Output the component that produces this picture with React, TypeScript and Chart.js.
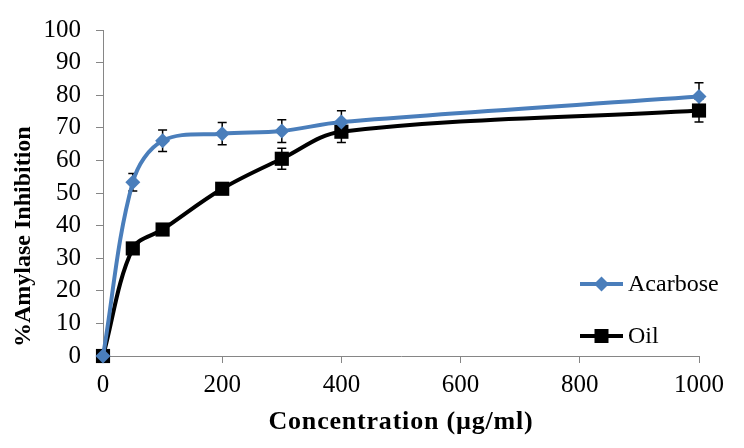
import { useEffect, useRef } from 'react';
import { Chart, registerables } from 'chart.js';

Chart.register(...registerables);

const concentrations = [0, 50, 100, 200, 300, 400, 1000];
const acarbose = [0, 53.3, 66.0, 68.2, 69.0, 71.8, 79.6];
const acarboseErr = [0, 2.7, 3.3, 3.4, 3.5, 3.4, 4.2];
const oil = [0, 33.0, 38.8, 51.3, 60.5, 68.8, 75.3];
const oilErr = [0, 1.5, 1.5, 1.5, 3.2, 3.3, 3.5];
const seriesNames = ['Acarbose', 'Oil'];
const xTitle = 'Concentration (µg/ml)';
const yTitle = '%Amylase Inhibition';

const BLUE = '#4A7EBB';
const BLACK = '#000000';
const AXIS = '#868686';
const FONT = "'Liberation Serif', 'Times New Roman', serif";

const errorBarPlugin = {
  id: 'errorBars',
  beforeDatasetsDraw(chart: any) {
    const { ctx } = chart;
    const xs = chart.scales.x;
    const ys = chart.scales.y;
    chart.data.datasets.forEach((ds: any) => {
      const errs: number[] = ds.errors || [];
      ctx.save();
      ctx.strokeStyle = '#000';
      ctx.lineWidth = 1.5;
      ds.data.forEach((p: any, i: number) => {
        const e = errs[i];
        if (!e) return;
        const x = xs.getPixelForValue(p.x);
        const yTop = ys.getPixelForValue(p.y + e);
        const yBot = ys.getPixelForValue(p.y - e);
        ctx.beginPath();
        ctx.moveTo(x, yTop);
        ctx.lineTo(x, yBot);
        ctx.moveTo(x - 4.5, yTop);
        ctx.lineTo(x + 4.5, yTop);
        ctx.moveTo(x - 4.5, yBot);
        ctx.lineTo(x + 4.5, yBot);
        ctx.stroke();
      });
      ctx.restore();
    });
  },
};

const titlesPlugin = {
  id: 'axisTitles',
  afterDraw(chart: any) {
    const { ctx, chartArea } = chart;
    // y title
    ctx.save();
    ctx.translate(24, chartArea.bottom - 9);
    ctx.rotate(-Math.PI / 2);
    ctx.font = `bold 24px ${FONT}`;
    ctx.fillStyle = '#000';
    ctx.textAlign = 'left';
    ctx.textBaseline = 'middle';
    ctx.fillText(yTitle, 0, 0);
    ctx.restore();
    // x title
    ctx.save();
    ctx.font = `bold 26px ${FONT}`;
    ctx.fillStyle = '#000';
    try {
      (ctx as any).letterSpacing = '0.8px';
    } catch (e) {
      /* ignore */
    }
    ctx.textAlign = 'center';
    ctx.textBaseline = 'middle';
    ctx.fillText(xTitle, (chartArea.left + chartArea.right) / 2, chartArea.bottom + 66);
    ctx.restore();
  },
};

const legendPlugin = {
  id: 'customLegend',
  afterDraw(chart: any) {
    const { ctx, chartArea } = chart;
    const x1 = chartArea.right - 119;
    const x2 = chartArea.right - 76;
    const mx = (x1 + x2) / 2;
    const tx = chartArea.right - 71;
    const rows = [chartArea.top + 254, chartArea.top + 306];
    chart.data.datasets.forEach((ds: any, i: number) => {
      const y = rows[i];
      ctx.save();
      ctx.strokeStyle = ds.borderColor;
      ctx.lineWidth = 4;
      ctx.beginPath();
      ctx.moveTo(x1, y);
      ctx.lineTo(x2, y);
      ctx.stroke();
      ctx.fillStyle = ds.borderColor;
      ctx.beginPath();
      if (ds.pointStyle === 'rectRot') {
        const r = 7.5;
        ctx.moveTo(mx - r, y);
        ctx.lineTo(mx, y - r);
        ctx.lineTo(mx + r, y);
        ctx.lineTo(mx, y + r);
        ctx.closePath();
      } else {
        ctx.rect(mx - 7, y - 7, 14, 14);
      }
      ctx.fill();
      ctx.fillStyle = '#000';
      ctx.font = `24px ${FONT}`;
      ctx.textAlign = 'left';
      ctx.textBaseline = 'middle';
      ctx.fillText(ds.label, tx, y + 1);
      ctx.restore();
    });
  },
};

export default function App() {
  const ref = useRef<HTMLCanvasElement | null>(null);

  useEffect(() => {
    document.body.style.margin = '0';
    if (!ref.current) return;
    const chart = new Chart(ref.current, {
      type: 'line',
      data: {
        datasets: [
          {
            label: seriesNames[0],
            data: concentrations.map((c, i) => ({ x: c, y: acarbose[i] })),
            errors: acarboseErr,
            borderColor: BLUE,
            backgroundColor: BLUE,
            borderWidth: 4,
            pointStyle: 'rectRot',
            pointRadius: 7.5,
            pointBorderWidth: 0,
            pointBackgroundColor: BLUE,
            tension: 0.35,
            clip: false,
          } as any,
          {
            label: seriesNames[1],
            data: concentrations.map((c, i) => ({ x: c, y: oil[i] })),
            errors: oilErr,
            borderColor: BLACK,
            backgroundColor: BLACK,
            borderWidth: 4,
            pointStyle: 'rect',
            pointRadius: 10,
            pointBorderWidth: 0,
            pointBackgroundColor: BLACK,
            tension: 0.35,
            clip: false,
          } as any,
        ],
      },
      options: {
        responsive: false,
        animation: false,
        layout: { padding: { left: 0, top: 23, right: 45, bottom: 0 } },
        plugins: {
          legend: { display: false },
          tooltip: { enabled: false },
        },
        scales: {
          x: {
            type: 'linear',
            min: 0,
            max: 1000,
            afterFit: (s: any) => {
              s.height = 92;
            },
            ticks: {
              stepSize: 200,
              autoSkip: false,
              color: '#000',
              padding: 7,
              font: { family: FONT, size: 25 },
              maxRotation: 0,
              callback: (v: any) => String(v),
            },
            grid: {
              display: true,
              drawOnChartArea: false,
              drawTicks: true,
              tickLength: 7,
              color: AXIS,
            },
            border: { display: true, color: AXIS, width: 1 },
          },
          y: {
            min: 0,
            max: 100,
            afterFit: (s: any) => {
              s.width = 103;
            },
            ticks: {
              stepSize: 10,
              autoSkip: false,
              color: '#000',
              padding: 15,
              font: { family: FONT, size: 25 },
              callback: (v: any) => String(v),
            },
            grid: {
              display: true,
              drawOnChartArea: false,
              drawTicks: true,
              tickLength: 7,
              color: AXIS,
            },
            border: { display: true, color: AXIS, width: 1 },
          },
        },
      },
      plugins: [errorBarPlugin, legendPlugin, titlesPlugin],
    });
    return () => chart.destroy();
  }, []);

  return (
    <div style={{ width: 744, height: 448, background: '#fff' }}>
      <canvas ref={ref} width={744} height={448} />
    </div>
  );
}
